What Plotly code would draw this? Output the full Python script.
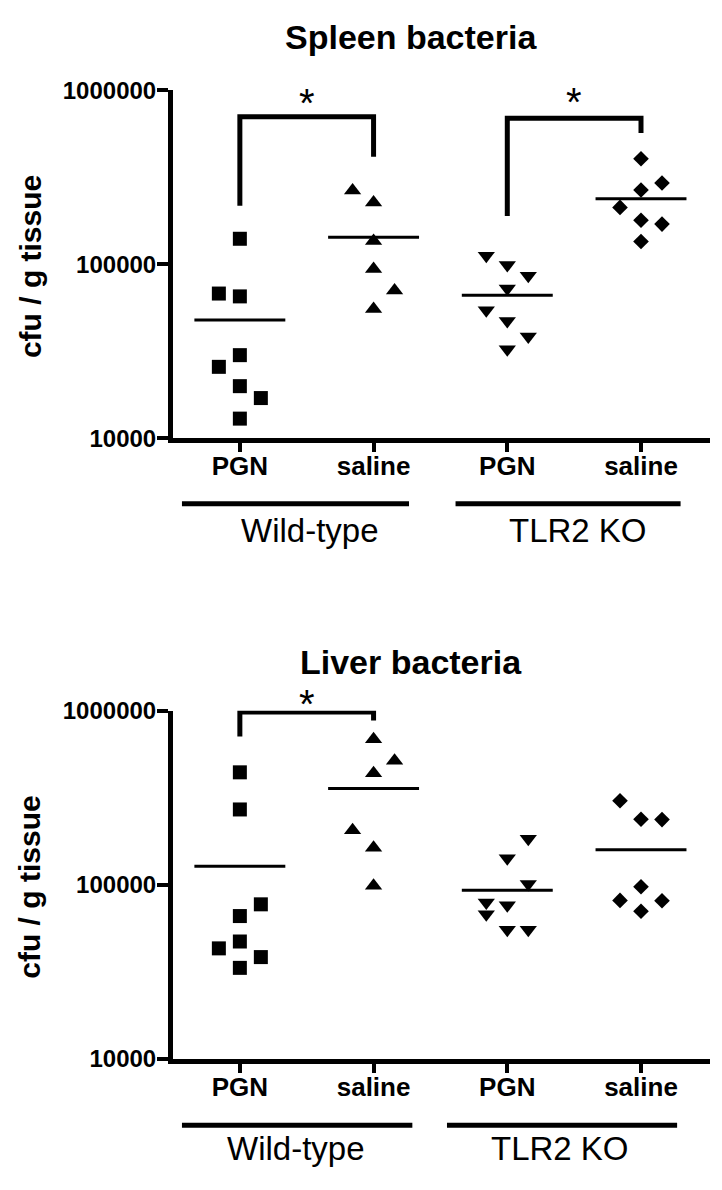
import plotly.graph_objects as go

W, H = 722, 1190

# ---------------- data ----------------
group_labels = ["PGN", "saline", "PGN", "saline"]
genotype_labels = ["Wild-type", "TLR2 KO"]
ytick_vals = [10000, 100000, 1000000]
ytick_text = ["10000", "100000", "1000000"]

# Spleen bacteria (cfu / g tissue)
spleen_wt_pgn = [140000, 67800, 65300, 30000, 25700, 19900, 17000, 12950]
spleen_wt_saline = [265000, 226000, 136000, 93800, 70500, 55200]
spleen_ko_pgn = [112000, 98800, 85700, 72400, 54400, 47200, 38400, 32400]
spleen_ko_saline = [404000, 293000, 267000, 212000, 179000, 170000, 135000]
spleen_means = [47800, 143000, 66400, 238000]
# side-by-side slot of each point inside its column (-1 left, 0 centre, 1 right)
spleen_wt_pgn_slot = [0, -1, 0, 0, -1, 0, 1, 0]
spleen_wt_saline_slot = [-1, 0, 0, 0, 1, 0]
spleen_ko_pgn_slot = [-1, 0, 1, 0, -1, 0, 1, 0]
spleen_ko_saline_slot = [0, 1, 0, -1, 0, 1, 0]
# significance brackets: (left group, right group, left foot, top, right foot)
spleen_brackets = [(1, 2, 217000, 705000, 415000), (3, 4, 189000, 690000, 568000)]

# Liver bacteria (cfu / g tissue)
liver_wt_pgn = [443000, 271000, 77200, 66100, 47200, 43100, 38400, 33300]
liver_wt_saline = [687000, 517000, 437000, 206000, 163000, 98800]
liver_ko_pgn = [184000, 142000, 101000, 79200, 76200, 67800, 55200, 55200]
liver_ko_saline = [304000, 238000, 237000, 97500, 81300, 81000, 70500]
liver_means = [128000, 358000, 92900, 159000]
liver_wt_pgn_slot = [0, 0, 1, 0, 0, -1, 1, 0]
liver_wt_saline_slot = [0, 1, 0, -1, 0, 0]
liver_ko_pgn_slot = [1, 0, 1, -1, 0, -1, 0, 1]
liver_ko_saline_slot = [-1, 0, 1, 0, -1, 1, 0]
liver_brackets = [(1, 2, 712000, 985000, 879000)]

# ---------------- styling ----------------
FONT = "Liberation Sans, Arial, Helvetica, sans-serif"
SLOT = 0.157          # horizontal step between side-by-side points
MEAN_HALF = 0.34      # half width of the mean line
symbols = ["square", "triangle-up", "triangle-down", "diamond"]
sizes = [14, 15, 15, 12]

X_LEFT, X_RIGHT = 173, 710
X_RANGE = [0.5, 4.516]


def pxy(py):
    return 1 - py / H


fig = go.Figure()

panels = [
    dict(xa="x", ya="y", top=78, bottom=434,
         cols=[(spleen_wt_pgn, spleen_wt_pgn_slot), (spleen_wt_saline, spleen_wt_saline_slot),
               (spleen_ko_pgn, spleen_ko_pgn_slot), (spleen_ko_saline, spleen_ko_saline_slot)],
         means=spleen_means, brackets=spleen_brackets, title="Spleen bacteria", title_y=24,
         star_y=[91, 90], glines=[(0.567, 2.265), (2.613, 4.296)], gline_y=501,
         glabel_x=[1.525, 3.53], glabel_y=529),
    dict(xa="x2", ya="y2", top=713, bottom=1069,
         cols=[(liver_wt_pgn, liver_wt_pgn_slot), (liver_wt_saline, liver_wt_saline_slot),
               (liver_ko_pgn, liver_ko_pgn_slot), (liver_ko_saline, liver_ko_saline_slot)],
         means=liver_means, brackets=liver_brackets, title="Liver bacteria", title_y=663,
         star_y=[706], glines=[(0.567, 2.29), (2.549, 4.27)], gline_y=1137,
         glabel_x=[1.42, 3.395], glabel_y=1161),
]

shapes = []
annotations = []

for p in panels:
    for i, (vals, slots) in enumerate(p["cols"]):
        fig.add_trace(go.Scatter(
            x=[i + 1 + s * SLOT for s in slots], y=vals, mode="markers",
            marker=dict(symbol=symbols[i], size=sizes[i], color="black", line=dict(width=0)),
            xaxis=p["xa"], yaxis=p["ya"], showlegend=False, cliponaxis=False))
        m = p["means"][i]
        fig.add_trace(go.Scatter(
            x=[i + 1 - MEAN_HALF, i + 1 + MEAN_HALF], y=[m, m], mode="lines",
            line=dict(color="black", width=3), xaxis=p["xa"], yaxis=p["ya"], showlegend=False))
    for k, (g1, g2, f1, top, f2) in enumerate(p["brackets"]):
        fig.add_trace(go.Scatter(
            x=[g1, g1, g2, g2], y=[f1, top, top, f2], mode="lines",
            line=dict(color="black", width=5), xaxis=p["xa"], yaxis=p["ya"],
            showlegend=False, cliponaxis=False))
        annotations.append(dict(
            text="*", x=(g1 + g2) / 2, xref=p["xa"], y=pxy(p["star_y"][k]), yref="paper",
            xanchor="center", yanchor="middle", showarrow=False,
            font=dict(family=FONT, size=40, color="black")))
    # title
    annotations.append(dict(
        text="<b>%s</b>" % p["title"], x=411 / W, y=pxy(p["title_y"]), xref="paper", yref="paper",
        xanchor="center", yanchor="middle", showarrow=False,
        font=dict(family=FONT, size=34, color="black")))
    # y title
    annotations.append(dict(
        text="<b>cfu / g tissue</b>", textangle=-90, x=30 / W,
        y=pxy((p["top"] + p["bottom"]) / 2 + 3), xref="paper", yref="paper",
        xanchor="center", yanchor="middle", showarrow=False,
        font=dict(family=FONT, size=30, color="black")))
    # genotype lines and labels
    for j, (a, b) in enumerate(p["glines"]):
        shapes.append(dict(type="line", xref=p["xa"], yref="paper", x0=a, x1=b,
                           y0=pxy(p["gline_y"]), y1=pxy(p["gline_y"]),
                           line=dict(color="black", width=5)))
        annotations.append(dict(
            text=genotype_labels[j], x=p["glabel_x"][j], xref=p["xa"], y=pxy(p["glabel_y"]),
            yref="paper", xanchor="center", yanchor="middle", showarrow=False,
            font=dict(family=FONT, size=33, color="black")))

axis_common_x = dict(
    range=X_RANGE, tickvals=[1, 2, 3, 4], ticktext=group_labels,
    showline=True, linewidth=5, linecolor="black", ticks="outside", ticklen=9, tickwidth=4,
    tickcolor="black", showgrid=False, zeroline=False, ticklabelstandoff=-8,
    tickfont=dict(family=FONT, size=26, color="black", weight="bold"),
    domain=[X_LEFT / W, X_RIGHT / W], fixedrange=True)
axis_common_y = dict(
    type="log", range=[4, 6], tickvals=ytick_vals, ticktext=ytick_text,
    showline=True, linewidth=5, linecolor="black", ticks="outside", ticklen=11, tickwidth=4,
    tickcolor="black", showgrid=False, zeroline=False, ticklabelstandoff=-4,
    tickfont=dict(family=FONT, size=24, color="black", weight="bold"), fixedrange=True)

fig.update_layout(
    width=W, height=H, margin=dict(l=0, r=0, t=0, b=0),
    paper_bgcolor="white", plot_bgcolor="white", showlegend=False,
    xaxis=dict(axis_common_x, anchor="y"),
    yaxis=dict(axis_common_y, anchor="x", domain=[pxy(434), pxy(78)]),
    xaxis2=dict(axis_common_x, anchor="y2"),
    yaxis2=dict(axis_common_y, anchor="x2", domain=[pxy(1069), pxy(713)]),
    shapes=shapes, annotations=annotations,
)

fig.write_html("out.html", config={"displayModeBar": False},
               post_script="document.body.style.margin='0';document.body.style.padding='0';")
